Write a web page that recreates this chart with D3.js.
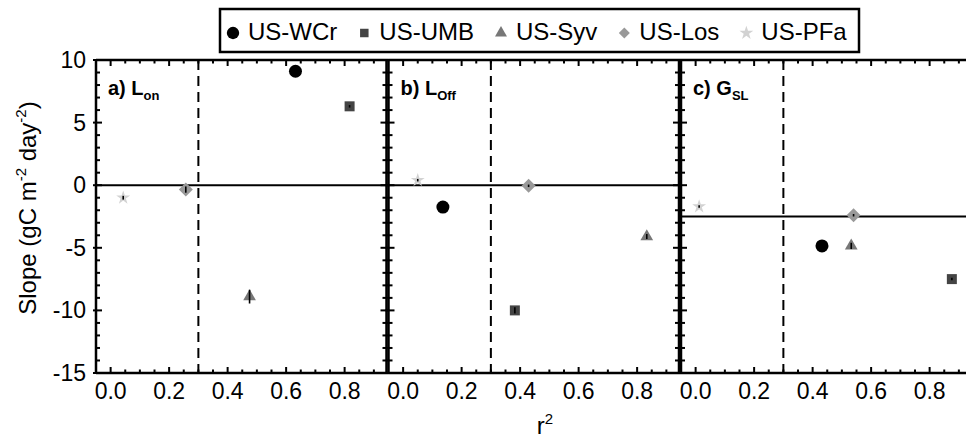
<!DOCTYPE html>
<html>
<head>
<meta charset="utf-8">
<script src="https://cdn.jsdelivr.net/npm/d3@7"></script>
<style>
  body { margin: 0; background: #fff; }
  svg { font-family: "Liberation Sans", Arial, sans-serif; }
</style>
</head>
<body>
<script>
// ---- data ----
var sites = ["US-WCr", "US-UMB", "US-Syv", "US-Los", "US-PFa"];
var panelTags = ["a) ", "b) ", "c) "];
var panelVars = ["L", "L", "G"];
var panelSubs = ["on", "Off", "SL"];

var r2Lon = [0.632, 0.817, 0.475, 0.257, 0.043];
var slopeLon = [9.1, 6.3, -8.9, -0.35, -1.0];
var errLon = [0.1, 0.1, 0.55, 0.25, 0.15];

var r2Loff = [0.136, 0.382, 0.833, 0.429, 0.05];
var slopeLoff = [-1.75, -10.0, -4.1, -0.05, 0.4];
var errLoff = [0.1, 0.25, 0.2, 0.1, 0.1];

var r2Gsl = [0.432, 0.876, 0.532, 0.54, 0.012];
var slopeGsl = [-4.85, -7.5, -4.85, -2.4, -1.7];
var errGsl = [0.1, 0.1, 0.25, 0.1, 0.1];

var refLines = [0, 0, -2.5];   // solid horizontal line per panel
var r2Threshold = 0.3;         // dashed vertical line

var xTicks = [0, 0.2, 0.4, 0.6, 0.8];
var yTicks = [-15, -10, -5, 0, 5, 10];

var panels = [
    { r2: r2Lon, slope: slopeLon, err: errLon },
    { r2: r2Loff, slope: slopeLoff, err: errLoff },
    { r2: r2Gsl, slope: slopeGsl, err: errGsl }
];

// ---- layout ----
var w = 966, h = 439;
var plotLeft = 96, pw = 292.5;
var plotTop = 60, plotBottom = 373;

var colors = ["#000000", "#444444", "#777777", "#999999", "#d2d2d2"];
var symbols = [
    d3.symbol().type(d3.symbolCircle).size(133),
    d3.symbol().type(d3.symbolSquare).size(100),
    d3.symbol().type(d3.symbolTriangle).size(70),
    d3.symbol().type(d3.symbolSquare).size(98),
    d3.symbol().type(d3.symbolStar).size(60)
];
var legendSymbols = [
    d3.symbol().type(d3.symbolCircle).size(120),
    d3.symbol().type(d3.symbolSquare).size(72),
    d3.symbol().type(d3.symbolTriangle).size(62),
    d3.symbol().type(d3.symbolSquare).size(60),
    d3.symbol().type(d3.symbolStar).size(60)
];
var rotations = [0, 0, 0, 45, 0];

var svg = d3.select("body").append("svg")
    .attr("width", w)
    .attr("height", h);

var yScale = d3.scaleLinear().domain([-15, 10]).range([plotBottom, plotTop]);

var minorX = d3.range(0, 19).map(function(i) { return Math.round((i * 0.05) * 100) / 100; })
    .filter(function(v) { return xTicks.indexOf(v) < 0; });
var minorY = d3.range(-14, 10).filter(function(v) { return v % 5 !== 0; });

panels.forEach(function(p, pi) {
    var x0 = plotLeft + pi * pw;
    var last = pi === panels.length - 1;
    var xScale = d3.scaleLinear().domain([-0.05, 0.95]).range([x0, x0 + pw]);
    var g = svg.append("g");

    // reference lines
    g.append("line")
        .attr("x1", x0).attr("x2", x0 + pw)
        .attr("y1", yScale(refLines[pi])).attr("y2", yScale(refLines[pi]))
        .attr("stroke", "#000").attr("stroke-width", 2);
    g.append("line")
        .attr("x1", xScale(r2Threshold)).attr("x2", xScale(r2Threshold))
        .attr("y1", plotTop).attr("y2", plotBottom)
        .attr("stroke", "#000").attr("stroke-width", 2)
        .attr("stroke-dasharray", "10,6");

    // frame
    g.append("line").attr("x1", x0).attr("x2", x0 + pw).attr("y1", plotTop).attr("y2", plotTop)
        .attr("stroke", "#000").attr("stroke-width", 2.5);
    g.append("line").attr("x1", x0).attr("x2", x0 + pw).attr("y1", plotBottom).attr("y2", plotBottom)
        .attr("stroke", "#000").attr("stroke-width", 2.5);
    g.append("line").attr("x1", x0).attr("x2", x0).attr("y1", plotTop - 1).attr("y2", plotBottom + 1)
        .attr("stroke", "#000").attr("stroke-width", 2.5);
    if (!last) {
        g.append("line").attr("x1", x0 + pw - 2).attr("x2", x0 + pw - 2).attr("y1", plotTop - 1).attr("y2", plotBottom + 1)
            .attr("stroke", "#000").attr("stroke-width", 2.5);
    }

    // x ticks (top and bottom, inward)
    [[xTicks, 6], [minorX, 3.5]].forEach(function(t) {
        g.selectAll(null).data(t[0]).enter().append("line")
            .attr("x1", xScale).attr("x2", xScale)
            .attr("y1", plotBottom).attr("y2", plotBottom - t[1])
            .attr("stroke", "#000").attr("stroke-width", 2);
        g.selectAll(null).data(t[0]).enter().append("line")
            .attr("x1", xScale).attr("x2", xScale)
            .attr("y1", plotTop).attr("y2", plotTop + t[1])
            .attr("stroke", "#000").attr("stroke-width", 2);
    });
    // y ticks (left and right)
    [[yTicks, 6], [minorY, 4]].forEach(function(t) {
        g.selectAll(null).data(t[0]).enter().append("line")
            .attr("x1", x0 - (t[1] > 5 ? 3 : 0)).attr("x2", x0 + t[1])
            .attr("y1", yScale).attr("y2", yScale)
            .attr("stroke", "#000").attr("stroke-width", 2);
        if (!last) {
            g.selectAll(null).data(t[0]).enter().append("line")
                .attr("x1", x0 + pw - 2 - t[1]).attr("x2", x0 + pw)
                .attr("y1", yScale).attr("y2", yScale)
                .attr("stroke", "#000").attr("stroke-width", 2);
        }
    });

    // x tick labels
    g.selectAll(null).data(xTicks).enter().append("text")
        .attr("x", xScale).attr("y", 399)
        .attr("text-anchor", "middle")
        .attr("font-size", 23)
        .text(function(d) { return d.toFixed(1); });

    // y tick labels only on first panel
    if (pi === 0) {
        g.selectAll(null).data(yTicks).enter().append("text")
            .attr("x", 86).attr("y", function(d) { return yScale(d) + 8; })
            .attr("text-anchor", "end")
            .attr("font-size", 23)
            .text(function(d) { return String(d); });
    }

    // panel label
    var lab = g.append("text")
        .attr("x", x0 + 12).attr("y", 95)
        .attr("font-size", 20).attr("font-weight", "bold");
    lab.append("tspan").text(panelTags[pi] + panelVars[pi]);
    lab.append("tspan").attr("font-size", 13).attr("dy", 5).text(panelSubs[pi]);

    // points
    p.r2.forEach(function(v, i) {
        var cx = xScale(v), cy = yScale(p.slope[i]);
        g.append("path")
            .attr("d", symbols[i]())
            .attr("transform", "translate(" + cx + "," + cy + ") rotate(" + rotations[i] + ")")
            .attr("fill", colors[i]);
        g.append("line")
            .attr("x1", cx).attr("x2", cx)
            .attr("y1", yScale(p.slope[i] - p.err[i]))
            .attr("y2", yScale(p.slope[i] + p.err[i]))
            .attr("stroke", "#000").attr("stroke-width", 1.6);
    });
});

// axis titles
svg.append("text")
    .attr("x", 545).attr("y", 434)
    .attr("text-anchor", "middle")
    .attr("font-size", 24)
    .call(function(t) {
        t.append("tspan").text("r");
        t.append("tspan").attr("font-size", 15).attr("dy", -10).text("2");
    });

var yl = svg.append("text")
    .attr("transform", "translate(36,208) rotate(-90)")
    .attr("text-anchor", "middle")
    .attr("font-size", 24);
yl.append("tspan").text("Slope (gC m");
yl.append("tspan").attr("font-size", 15).attr("dy", -10).text("-2");
yl.append("tspan").attr("dy", 10).text(" day");
yl.append("tspan").attr("font-size", 15).attr("dy", -10).text("-2");
yl.append("tspan").attr("dy", 10).text(")");

// legend
var lg = svg.append("g");
lg.append("rect")
    .attr("x", 220).attr("y", 9).attr("width", 639).attr("height", 43)
    .attr("fill", "#fff").attr("stroke", "#000").attr("stroke-width", 2.5);
var lx = 233;
sites.forEach(function(s, i) {
    lg.append("path")
        .attr("d", legendSymbols[i]())
        .attr("transform", "translate(" + lx + ",33) rotate(" + rotations[i] + ")")
        .attr("fill", colors[i]);
    var t = lg.append("text")
        .attr("x", lx + 15).attr("y", 40)
        .attr("font-size", 24)
        .text(s);
    lx += 15 + t.node().getComputedTextLength() + 27;
});
</script>
</body>
</html>
